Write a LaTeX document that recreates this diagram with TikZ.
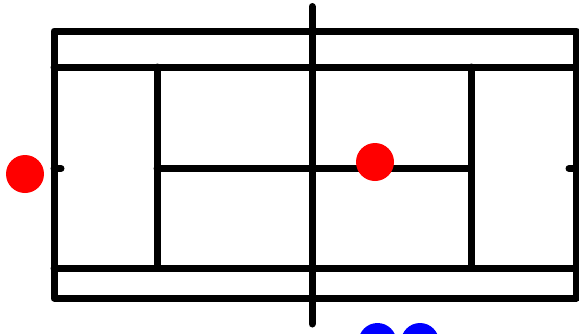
\documentclass[tikz,border=0pt]{standalone}
\usepackage{tikz}
\usetikzlibrary{positioning}
\tikzset{
    courtline/.style={line width=7pt, line join=round, line cap=round},
    redball/.style={fill=red},
    blueball/.style={fill=blue}
}
\begin{document}
\begin{tikzpicture}[x=1pt,y=-1pt]
        \useasboundingbox (0,0) rectangle (579,333);
        \clip (0,0) rectangle (579,333);
        % court
        \draw[courtline] (54,31) rectangle (576,298);
        \draw[courtline] (54,67) -- (576,67);
        \draw[courtline] (54,268) -- (576,268);
        \draw[courtline] (157,67) -- (157,268);
        \draw[courtline] (471,67) -- (471,268);
        \draw[courtline] (157,168.5) -- (471,168.5);
        \draw[courtline] (54,168.5) -- (61,168.5);
        \draw[courtline] (569,168.5) -- (576,168.5);
        % net
        \draw[courtline] (312,6.5) -- (312,324);
        % balls
        \fill[redball] (25,174) circle (19);
        \fill[redball] (375,162) circle (19);
        \fill[blueball] (377.5,342) circle (19);
        \fill[blueball] (420,342) circle (19);
    \end{tikzpicture}
\end{document}
